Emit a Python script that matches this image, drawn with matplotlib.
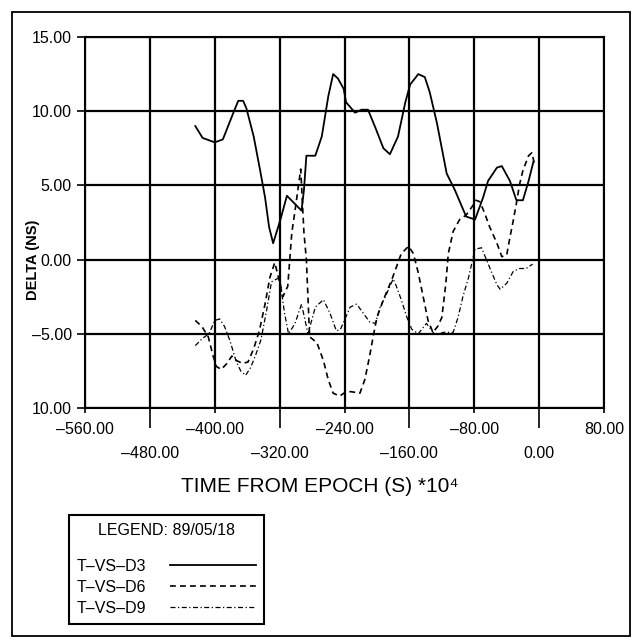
import matplotlib.pyplot as plt
from matplotlib.patches import Rectangle

plt.rcParams["font.family"] = ["Liberation Sans", "DejaVu Sans"]

# T-VS-D3 (solid)
d3_x = [-424, -415, -400, -390, -377, -371, -365, -361, -352, -344, -338, -333, -328,
        -319, -311, -293, -290, -287, -276, -268, -260, -254, -248, -241, -238, -227,
        -219, -211, -202, -192, -184, -174, -165, -159, -149, -141, -135, -126, -114,
        -104, -90, -79, -69, -63, -52, -46, -36, -28, -20, -13, -7]
d3_y = [9.0, 8.2, 7.9, 8.1, 9.9, 10.7, 10.7, 10.2, 8.3, 6.0, 4.2, 2.2, 1.1,
        2.7, 4.3, 3.3, 4.7, 7.0, 7.0, 8.3, 11.0, 12.5, 12.2, 11.5, 10.6, 9.9,
        10.1, 10.1, 8.9, 7.5, 7.1, 8.3, 10.6, 11.8, 12.5, 12.3, 11.3, 9.2, 5.8,
        4.7, 2.9, 2.7, 4.2, 5.3, 6.2, 6.3, 5.3, 4.0, 4.0, 5.3, 6.6]

# T-VS-D6 (dashed)
d6_x = [-424, -416, -408, -402, -398, -392, -385, -379, -373, -366, -359, -352, -345,
        -338, -332, -326, -321, -316, -310, -305, -301, -294, -290, -287, -283, -274,
        -266, -260, -254, -246, -238, -232, -221, -215, -209, -204, -200, -192, -182,
        -176, -170, -161, -155, -149, -143, -137, -131, -125, -120, -115, -112, -106,
        -98, -90, -81, -78, -73, -67, -61, -52, -46, -40, -36, -32, -28, -24, -20,
        -13, -9, -6]
d6_y = [-4.1, -4.5, -5.2, -6.5, -7.2, -7.4, -7.0, -6.5, -6.8, -7.0, -6.9, -6.0, -4.8,
        -3.0, -1.2, -0.2, -1.3, -2.5, -1.8, 1.8, 3.3, 6.1, 1.8, 0.0, -5.2, -5.6,
        -6.8, -8.1, -9.0, -9.2, -8.9, -8.9, -9.0, -8.1, -6.5, -5.0, -3.9, -2.7, -1.4,
        -0.5, 0.4, 0.9, 0.4, -0.9, -2.5, -4.1, -4.9, -4.5, -3.9, -1.6, 0.4, 1.9,
        2.7, 3.0, 3.7, 4.0, 3.9, 3.1, 2.2, 1.1, 0.2, 0.3, 1.5, 2.6, 3.8, 5.1, 6.0,
        7.0, 7.2, 6.5]

# T-VS-D9 (dash-dot)
d9_x = [-424, -415, -407, -400, -394, -388, -381, -374, -368, -362, -356, -350, -343,
        -336, -330, -320, -314, -309, -301, -293, -285, -276, -266, -258, -250, -245,
        -233, -225, -217, -209, -202, -196, -188, -180, -176, -170, -163, -157, -149,
        -139, -128, -118, -106, -100, -94, -87, -82, -79, -71, -65, -59, -52, -48,
        -40, -32, -24, -16, -8]
d9_y = [-5.8, -5.3, -5.0, -4.1, -4.0, -4.5, -5.5, -6.8, -7.5, -7.8, -7.3, -6.5, -5.4,
        -3.4, -1.5, -1.2, -3.6, -5.0, -4.3, -3.0, -5.0, -3.2, -2.7, -3.6, -4.8, -4.7,
        -3.2, -3.0, -3.6, -4.2, -4.3, -3.2, -2.3, -1.3, -1.8, -2.7, -3.9, -4.7, -5.0,
        -4.3, -5.1, -4.9, -4.9, -3.9, -2.5, -1.2, 0.0, 0.7, 0.8, 0.0, -0.8, -1.7, -2.0,
        -1.6, -0.8, -0.6, -0.6, -0.3]

x_upper_ticks = [-560, -400, -240, -80, 80]
x_upper_labels = ["\u2013560.00", "\u2013400.00", "\u2013240.00", "\u201380.00", "80.00"]
x_lower_ticks = [-480, -320, -160, 0]
x_lower_labels = ["\u2013480.00", "\u2013320.00", "\u2013160.00", "0.00"]
y_ticks = [15, 10, 5, 0, -5, -10]
y_labels = ["15.00", "10.00", "5.00", "0.00", "\u20135.00", "10.00"]

W, H = 633, 640
fig = plt.figure(figsize=(W / 100, H / 100), dpi=100)
ax = fig.add_axes([85 / W, 1 - 408 / H, (604 - 85) / W, (408 - 37) / H])

ax.plot(d3_x, d3_y, color="black", linewidth=1.3, label="T\u2013VS\u2013D3")
ax.plot(d6_x, d6_y, color="black", linewidth=1.2, linestyle=(0, (3.5, 2.5)),
        label="T\u2013VS\u2013D6")
ax.plot(d9_x, d9_y, color="black", linewidth=0.9, linestyle=(0, (4, 2, 1, 2)),
        label="T\u2013VS\u2013D9")

ax.set_xlim(-560, 80)
ax.set_ylim(-10, 15)
ax.set_xticks(x_upper_ticks, x_upper_labels)
ax.set_xticks(x_lower_ticks, x_lower_labels, minor=True)
ax.set_yticks(y_ticks, y_labels)
ax.tick_params(axis="x", which="major", length=3.6, width=1.2, pad=6.8, labelsize=11.5)
ax.tick_params(axis="x", which="minor", length=14.4, width=1.2, pad=13, labelsize=11.5)
ax.tick_params(axis="y", length=5.8, width=1.2, pad=3.6, labelsize=11.5)
ax.grid(True, which="both", color="black", linewidth=1.6)
for s in ax.spines.values():
    s.set_linewidth(1.5)

ax.set_ylabel("DELTA (NS)", fontsize=10.5, fontweight="bold")
ax.yaxis.set_label_coords(-0.087, 0.40)
fig.text(320 / W, 1 - 487 / H, "TIME FROM EPOCH (S) *10\u2074", fontsize=15,
         ha="center", va="center")

# legend: labels first, line samples after, title centred above
leg = ax.legend(loc="upper left", bbox_to_anchor=(69 / W, 1 - 515 / H),
                bbox_transform=fig.transFigure, title="LEGEND: 89/05/18",
                markerfirst=False, fontsize=11.5, title_fontsize=11.5,
                handlelength=5.4, handletextpad=1.45, fancybox=False,
                framealpha=1, edgecolor="black", borderpad=0.5,
                borderaxespad=0, labelspacing=0.37, alignment="center")
leg.get_frame().set_linewidth(1.5)
leg._legend_box.sep = 15

fig.patches.append(Rectangle((12 / W, 4 / H), (630 - 12) / W, (628 - 4) / H,
                             transform=fig.transFigure, fill=False,
                             edgecolor="black", linewidth=1.3))

fig.savefig("out.png", dpi=100)
